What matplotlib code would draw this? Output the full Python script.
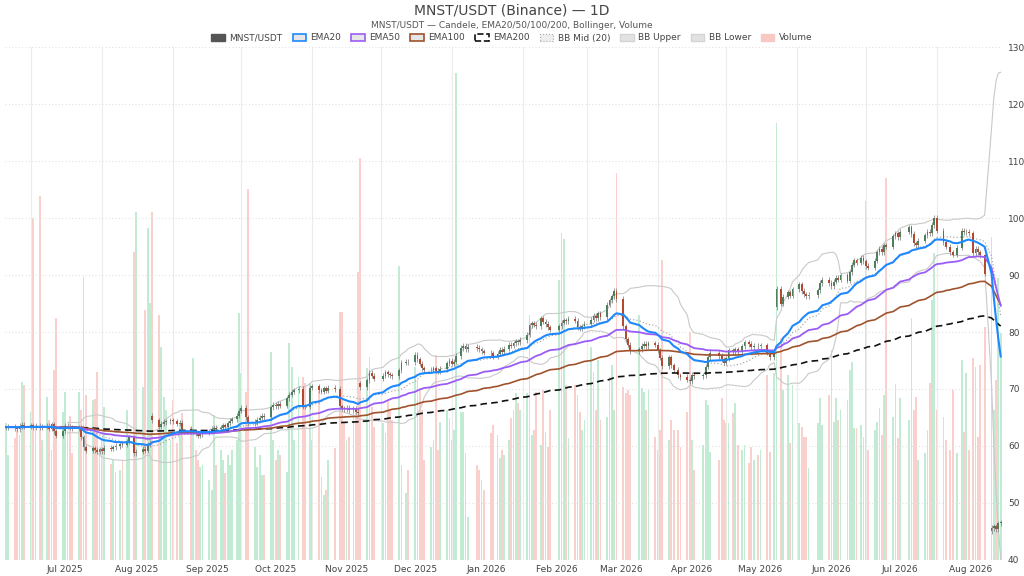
import pandas as pd
import matplotlib
matplotlib.use("Agg")
import matplotlib.pyplot as plt
import matplotlib.dates as mdates
from matplotlib.patches import Patch

# Daily closes from 2025-06-20 (None = no candle that day)
start_date = "2025-06-20"
closes = [
    63.3, 63.4, None, None, 63.1, 62.9, 63.5, 63.7, 63.4, None,
    None, 63.6, 63.2, 63.5, None, 63.3, 63.4, None, 63.5, 63.0,
    63.8, 62.6, 61.8, None, None, 62.6, 63.5, 63.4, 63.2, 63.1,
    None, None, 63.2, 61.5, 59.8, 59.2, None, None, 59.6, 59.3,
    59.0, 59.4, 59.1, 59.7, None, None, 59.5, 59.8, 60.0, None,
    60.4, 60.2, None, 60.8, 61.5, None, 58.7, 59.0, None, None,
    59.5, 59.2, 60.2, 60.6, 64.5, None, None, 63.4, 63.9, 64.2,
    64.3, None, 64.5, 64.3, None, 63.9, 64.1, 63.0, None, None,
    None, 62.5, 62.6, 62.2, 61.8, 62.1, 62.3, None, None, 62.6,
    63.0, 63.2, 62.9, None, 63.2, 63.6, 63.4, 64.0, 64.4, 64.7,
    None, 65.3, 66.2, 66.7, None, 65.0, 64.0, None, None, 64.2,
    64.6, 64.9, 65.3, 65.0, None, None, 66.8, 67.2, 67.0, 67.4,
    67.1, None, None, 68.4, 69.0, 69.5, 69.8, None, 70.0, None,
    67.0, 66.9, None, 70.2, 70.5, None, None, 69.8, 69.5, 70.1,
    69.7, 70.2, None, None, 70.0, None, 67.0, 66.6, 66.4, 66.7,
    66.3, None, 66.5, 66.0, 65.8, 70.3, None, None, 71.5, 72.8,
    72.3, 71.8, None, None, None, 72.3, 72.9, 72.6, 72.4, 72.2,
    None, None, 73.3, 74.6, None, 74.8, 74.7, None, None, 76.0,
    75.2, 74.4, 73.6, 73.3, None, None, 73.4, 73.6, 73.2, 73.0,
    73.5, None, None, 74.5, 75.0, 74.4, 74.8, 75.8, None, 77.2,
    77.6, 77.0, 77.4, None, None, None, 77.2, 77.0, 76.6, 76.4,
    None, None, 76.3, 75.8, None, 76.2, 76.9, 76.5, 77.1, None,
    77.8, 77.6, 78.0, 78.4, 78.2, 78.6, None, None, 79.5, 81.2,
    81.5, 81.3, 81.0, None, 82.4, 81.8, 81.4, 80.8, 80.4, None,
    None, None, 81.0, 81.6, 82.1, 81.9, 82.3, None, None, 82.0,
    80.8, 80.6, 81.0, 81.4, None, None, 82.2, 82.9, 82.4, 83.3,
    82.6, None, None, 84.8, 85.6, 86.3, 87.2, 85.8, None, None,
    81.0, 78.7, 77.8, 76.6, None, None, None, 77.0, 77.6, 77.9,
    77.5, 78.0, None, None, 77.8, 76.8, 75.5, 74.0, None, None,
    75.6, 74.2, 73.4, None, 72.4, 72.1, None, None, 71.6, 71.4,
    72.5, 72.2, None, None, None, 72.4, 73.9, 75.6, 76.4, None,
    None, None, 75.8, 75.2, 74.6, 75.4, 76.8, None, 76.5, 77.0,
    76.6, None, 77.5, 78.2, None, 77.9, 77.3, 77.6, None, 77.5,
    77.7, None, None, 76.4, 75.6, None, 76.2, 87.6, None, 85.0,
    86.2, None, 87.0, 86.4, 87.5, None, None, 88.4, 87.2, 86.6,
    86.3, 86.5, None, None, None, 87.3, 88.6, 89.2, None, None,
    88.6, 88.0, 88.8, 89.5, 89.2, 90.0, None, None, 89.0, 90.5,
    91.8, 92.6, 92.2, None, 93.0, 92.4, 91.6, 91.3, None, None,
    92.5, 94.0, 94.6, 94.0, 95.2, 95.0, None, None, 96.8, 97.3,
    96.6, 97.6, None, None, None, 98.4, 97.2, 95.6, 95.2, 96.0,
    None, None, 97.0, 97.6, 97.3, 98.8, 100.1, 97.8, None, None,
    95.8, 95.0, None, 94.0, 93.6, None, 94.8, None, 97.8, 97.5,
    97.6, 97.3, None, 93.8, 94.6, 94.0, 93.5, None, 90.2, None,
    None, 45.6, 45.9, 45.4, 46.4, 46.6,
]

volumes = [
    137, 105, None, None, 122, 130, 125, 178, 175, None,
    None, 148, 342, 135, None, 364, 120, None, 163, 140,
    110, 190, 242, None, None, 148, 168, 130, 144, 107,
    None, None, 168, 150, 283, 165, None, None, 160, 161,
    188, 110, 120, 153, None, None, 96, 100, 88, None,
    90, 100, None, 150, 120, None, 308, 348, None, None,
    173, 250, 332, 257, 348, None, None, 245, 213, 163,
    150, None, 120, 160, None, 117, 137, 147, None, None,
    None, 133, 202, 110, 100, 93, 95, None, None, 80,
    70, 145, 95, None, 110, 100, 87, 105, 95, 110,
    None, 120, 247, 187, None, 168, 371, None, None, 113,
    93, 105, 85, 85, None, None, 208, 120, 100, 110,
    105, None, None, 88, 217, 193, 120, None, 183, None,
    183, 177, None, 177, 120, None, None, 173, 83, 65,
    70, 100, None, None, 112, None, 248, 248, 137, 120,
    123, None, 147, 150, 288, 402, None, None, 192, 203,
    153, 133, None, None, None, 137, 127, 160, 150, 140,
    None, None, 294, 95, None, 67, 90, None, None, 193,
    180, 170, 150, 100, None, None, 113, 120, 205, 110,
    138, None, None, 150, 142, 120, 130, 487, None, 148,
    148, 107, 43, None, None, None, 95, 90, 80, 70,
    None, None, 127, 135, None, 125, 102, 110, 105, None,
    120, 142, 150, 167, 157, 150, None, None, 167, 245,
    125, 130, 168, None, 115, 170, 128, 113, 150, None,
    None, None, 280, 327, 321, 175, 122, None, None, 175,
    165, 148, 130, 140, None, None, 213, 188, 150, 200,
    140, None, None, 143, 183, 195, 150, 387, None, None,
    173, 167, 170, 165, None, None, None, 245, 172, 168,
    150, 170, None, None, 123, 110, 130, 300, None, None,
    120, 140, 130, None, 130, 113, None, None, 148, 228,
    120, 90, None, None, None, 115, 160, 155, 108, None,
    None, None, 100, 162, 140, 137, 137, None, 147, 157,
    115, None, 110, 115, None, 97, 113, 100, None, 105,
    110, None, None, 185, 108, None, 187, 437, None, 222,
    170, None, 185, 117, 175, None, None, 137, 133, 123,
    123, 92, None, None, None, 137, 162, 135, None, None,
    165, 210, 138, 162, 140, 150, None, None, 160, 190,
    198, 132, 132, None, 135, 123, 359, 110, None, None,
    130, 138, 152, 125, 165, 382, None, None, 143, 176,
    122, 162, None, None, None, 140, 242, 150, 163, 100,
    None, None, 107, 130, 177, 260, 307, 150, None, None,
    143, 120, None, 110, 170, None, 107, None, 200, 128,
    187, 110, None, 202, 193, 123, 195, None, 233, None,
    None, 323, 150, 180, 282, 227,
]

# days that opened away from the previous close (gaps)
open_overrides = {64: 65.3, 155: 71.0, 337: 84.4, 431: 45.0}

days = pd.date_range(start_date, periods=len(closes), freq="D")
rows = []
prev = None
for i, (c, v) in enumerate(zip(closes, volumes)):
    if c is None:
        continue
    o = open_overrides.get(i, prev if prev is not None else c)
    rows.append((days[i], o, c, v))
    prev = c
df = pd.DataFrame(rows, columns=["date", "open", "close", "volume"]).set_index("date")
df["high"] = df[["open", "close"]].max(axis=1) + 0.45
df["low"] = df[["open", "close"]].min(axis=1) - 0.45

# indicators
for span in [20, 50, 100, 200]:
    df[f"ema{span}"] = df["close"].ewm(span=span, adjust=False).mean()
df["bb_mid"] = df["close"].rolling(20).mean()
bb_std = df["close"].rolling(20).std(ddof=0)
df["bb_up"] = df["bb_mid"] + 2 * bb_std
df["bb_low"] = df["bb_mid"] - 2 * bb_std

x = mdates.date2num(df.index.to_pydatetime())
up = df["close"] >= df["open"]

fig = plt.figure(figsize=(10.24, 5.76), dpi=100)
ax = fig.add_axes([0.005, 0.028, 0.974, 0.890])
ax_vol = ax.twinx()
ax.set_zorder(2)
ax_vol.set_zorder(1)
ax.patch.set_visible(False)

# volume
vol_colors = ["#8fdcaf" if u else "#f5aaa2" for u in up]
ax_vol.bar(x, df["volume"], width=0.8, color=vol_colors, alpha=0.55, linewidth=0)
ax_vol.set_ylim(0, df["volume"].max() * 1.054)
ax_vol.set_yticks([])

# bollinger
ax.plot(x, df["bb_up"], color="#c9c9c9", lw=0.8)
ax.plot(x, df["bb_low"], color="#c9c9c9", lw=0.8)
ax.plot(x, df["bb_mid"], color="#9a9a9a", lw=0.8, ls=(0, (1, 2)))

# candles
body_colors = ["#4b7f5e" if u else "#b5492f" for u in up]
ax.vlines(x, df["low"], df["high"], color="#8a8a8a", lw=0.6, zorder=3)
body_h = (df["close"] - df["open"]).abs().clip(lower=0.08)
ax.bar(x, body_h, bottom=df[["open", "close"]].min(axis=1), width=0.8,
       color=body_colors, linewidth=0, zorder=4)

# EMAs
ax.plot(x, df["ema200"], color="#111111", lw=1.2, ls=(0, (4, 2.5)), zorder=5)
ax.plot(x, df["ema100"], color="#a0522d", lw=1.2, zorder=5)
ax.plot(x, df["ema50"], color="#9b5cf6", lw=1.3, zorder=5)
ax.plot(x, df["ema20"], color="#1e88ff", lw=1.5, zorder=5)

ax.set_ylim(40, 130)
ax.set_xlim(x[0] - 0.3, x[-1] + 0.8)
ax.yaxis.tick_right()
ax.set_yticks(range(40, 131, 10))
ax.tick_params(axis="y", length=0, labelsize=6.5, labelcolor="#444", pad=4)
ax.grid(axis="y", color="#e2e2e2", ls=(0, (1, 2)), lw=0.8)

ax.xaxis.set_minor_locator(mdates.MonthLocator())
ax.xaxis.set_major_locator(mdates.MonthLocator(bymonthday=16))
ax.xaxis.set_major_formatter(mdates.DateFormatter("%b %Y"))
ax.tick_params(axis="x", which="both", length=0, labelsize=6.5, labelcolor="#444", pad=4)
ax.grid(axis="x", which="minor", color="#ececec", lw=0.8)

for a in (ax, ax_vol):
    for s in a.spines.values():
        s.set_visible(False)

fig.text(0.5, 1 - 10 / 576, "MNST/USDT (Binance) — 1D", ha="center", va="center",
         fontsize=10, color="#444")
fig.text(0.5, 1 - 25 / 576, "MNST/USDT — Candele, EMA20/50/100/200, Bollinger, Volume",
         ha="center", va="center", fontsize=6.5, color="#555")

handles = [
    Patch(facecolor="#555555", edgecolor="#555555"),
    Patch(facecolor="#e6e6e6", edgecolor="#1e88ff", lw=1.2),
    Patch(facecolor="#e6e6e6", edgecolor="#9b5cf6", lw=1.2),
    Patch(facecolor="#e6e6e6", edgecolor="#a0522d", lw=1.2),
    Patch(facecolor="white", edgecolor="#111111", lw=1.2, ls="--"),
    Patch(facecolor="#eeeeee", edgecolor="#aaaaaa", lw=0.8, ls=":"),
    Patch(facecolor="#e2e2e2", edgecolor="#d4d4d4"),
    Patch(facecolor="#e2e2e2", edgecolor="#d4d4d4"),
    Patch(facecolor="#f8c8c3", edgecolor="#f8c8c3"),
]
labels = ["MNST/USDT", "EMA20", "EMA50", "EMA100", "EMA200",
          "BB Mid (20)", "BB Upper", "BB Lower", "Volume"]
leg = fig.legend(handles, labels, loc="center", bbox_to_anchor=(0.5, 1 - 38 / 576),
                 ncol=9, frameon=False, fontsize=6.5, handlelength=1.5,
                 handleheight=0.9, columnspacing=1.1, handletextpad=0.5)
for t in leg.get_texts():
    t.set_color("#444")

fig.savefig("out.png", dpi=100)
